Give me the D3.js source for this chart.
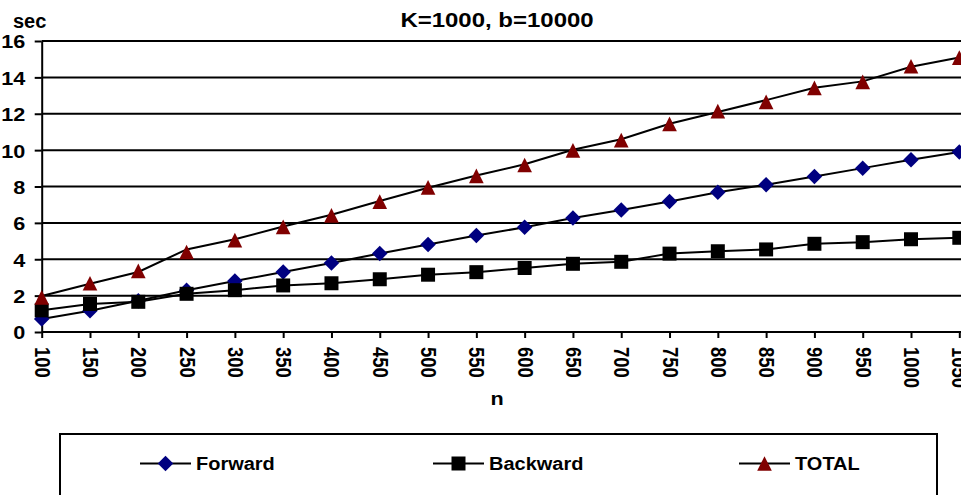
<!DOCTYPE html>
<html lang="en">
<head>
<meta charset="UTF-8">
<title>K=1000, b=10000</title>
<script src="https://d3js.org/d3.v7.min.js"></script>
<style>
  body { margin: 0; background: #fff; }
  svg { display: block; }
  text { font-family: "Liberation Sans", Arial, sans-serif; font-weight: bold; fill: #000; }
  .grid line { stroke: #000; stroke-width: 2px; }
  .axis path, .axis line { stroke: #000; stroke-width: 2px; }
  .line { fill: none; stroke: #000; stroke-width: 2px; }
</style>
</head>
<body>
<svg width="961" height="495"></svg>
<script>
// values
const nValues = [100, 150, 200, 250, 300, 350, 400, 450, 500, 550,
                 600, 650, 700, 750, 800, 850, 900, 950, 1000, 1050];
const forward  = [0.71, 1.17, 1.72, 2.29, 2.80, 3.30, 3.79, 4.32, 4.81, 5.30,
                  5.76, 6.27, 6.71, 7.17, 7.68, 8.10, 8.55, 9.01, 9.47, 9.90];
const backward = [1.19, 1.54, 1.66, 2.10, 2.30, 2.56, 2.68, 2.90, 3.15, 3.29,
                  3.52, 3.75, 3.86, 4.31, 4.44, 4.54, 4.85, 4.94, 5.10, 5.18];
const total    = [1.90, 2.68, 3.36, 4.40, 5.05, 5.78, 6.41, 7.17, 7.95, 8.58,
                  9.18, 9.99, 10.55, 11.44, 12.14, 12.65, 13.42, 13.75, 14.61, 15.09];
// the TOTAL line does not pass exactly through its markers
const totalLine = [1.98, 2.65, 3.30, 4.54, 5.10, 5.80, 6.45, 7.20, 7.93, 8.60,
                   9.22, 10.02, 10.60, 11.45, 12.10, 12.75, 13.43, 13.78, 14.58, 15.09];
const yTicks = [0, 2, 4, 6, 8, 10, 12, 14, 16];
const seriesNames = ["Forward", "Backward", "TOTAL"];
const titleText = "K=1000, b=10000";

const width = 961, height = 495;
const svg = d3.select("svg");

const x = d3.scaleLinear().domain([100, 1050]).range([41.7, 959.3]);
const y = d3.scaleLinear().domain([0, 16]).range([332, 41]);

// custom Excel-like markers
const diamond = { draw(ctx, size) {
  const r = Math.sqrt(size) / 2;
  ctx.moveTo(0, -r); ctx.lineTo(r, 0); ctx.lineTo(0, r); ctx.lineTo(-r, 0); ctx.closePath();
}};
const triangle = { draw(ctx, size) {
  const r = Math.sqrt(size) / 2;
  ctx.moveTo(0, -r); ctx.lineTo(r, r); ctx.lineTo(-r, r); ctx.closePath();
}};

const series = [
  { name: seriesNames[0], marks: forward,  line: forward,   symbol: d3.symbol(diamond, 240),         color: "#000080" },
  { name: seriesNames[1], marks: backward, line: backward,  symbol: d3.symbol(d3.symbolSquare, 196), color: "#000000" },
  { name: seriesNames[2], marks: total,    line: totalLine, symbol: d3.symbol(triangle, 215),        color: "#800000" }
];

// text is slightly wider than the font in the original picture
function stretch(sel, tx, ty, sx, extra) {
  sel.attr("transform", `translate(${tx},${ty}) scale(${sx},1)` + (extra || ""));
}

// gridlines
svg.append("g").attr("class", "grid")
  .selectAll("line")
  .data(yTicks.filter(d => d > 0))
  .join("line")
  .attr("x1", x(100)).attr("x2", width)
  .attr("y1", d => y(d)).attr("y2", d => y(d));

// y axis
const yAxis = svg.append("g").attr("class", "axis")
  .attr("transform", `translate(${x(100)},0)`)
  .call(d3.axisLeft(y).tickValues(yTicks).tickSize(7).tickSizeOuter(0));
yAxis.selectAll("text")
  .attr("x", null).attr("dy", null)
  .attr("dominant-baseline", "central")
  .style("font-size", "18.5px")
  .each(function() { stretch(d3.select(this), -16.5, 0.5, 1.17); });

// x axis
const xAxis = svg.append("g").attr("class", "axis")
  .attr("transform", `translate(0,${y(0)})`)
  .call(d3.axisBottom(x).tickValues(nValues).tickSize(6).tickSizeOuter(0).tickFormat(d3.format("d")));
xAxis.select(".domain").attr("d", `M${x(100)},0H${width}`);
xAxis.selectAll("text")
  .attr("y", null).attr("dy", null)
  .attr("text-anchor", "start")
  .attr("dominant-baseline", "central")
  .style("font-size", "18.5px")
  .each(function() { stretch(d3.select(this), 0, 15, 1.17, " rotate(90)"); });

// series
const lineGen = d3.line().x((d, i) => x(nValues[i])).y(d => y(d));
series.forEach(s => {
  const g = svg.append("g").attr("class", "series");
  g.append("path").attr("class", "line").attr("d", lineGen(s.line));
  g.selectAll("path.mark")
    .data(s.marks)
    .join("path")
    .attr("class", "mark")
    .attr("d", s.symbol)
    .attr("fill", s.color)
    .attr("transform", (d, i) => `translate(${x(nValues[i])},${y(d)})`);
});

// titles
stretch(svg.append("text").attr("text-anchor", "middle").style("font-size", "20.5px").text(titleText),
  497, 26.5, 1.17);
stretch(svg.append("text").attr("text-anchor", "start").style("font-size", "20px").text("sec"),
  13, 28, 1.0);
stretch(svg.append("text").attr("text-anchor", "middle").style("font-size", "18.5px").text("n"),
  497, 405, 1.17);

// legend
const legend = svg.append("g");
legend.append("rect")
  .attr("x", 60).attr("y", 434).attr("width", 877).attr("height", 120)
  .attr("fill", "#fff").attr("stroke", "#000").attr("stroke-width", 2);
const legendX = [140, 433, 739];
const legendY = 463.5;
series.forEach((s, i) => {
  const g = legend.append("g").attr("transform", `translate(${legendX[i]},${legendY})`);
  g.append("line").attr("x1", 0).attr("x2", 51).attr("stroke", "#000").attr("stroke-width", 2);
  g.append("path").attr("d", s.symbol).attr("fill", s.color).attr("transform", "translate(25.5,0)");
  stretch(g.append("text").style("font-size", "18.5px").text(s.name), 56, 6.5, 1.08);
});
</script>
</body>
</html>
